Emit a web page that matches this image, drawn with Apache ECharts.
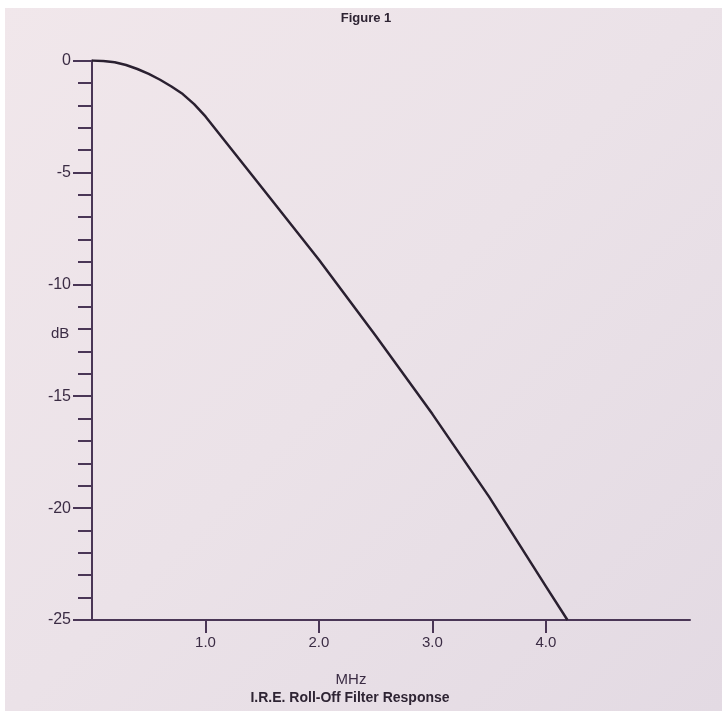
<!DOCTYPE html>
<html>
<head>
<meta charset="utf-8">
<script src="https://cdn.jsdelivr.net/npm/echarts@6/dist/echarts.min.js"></script>
<style>
  html, body { margin: 0; padding: 0; background: #ffffff; overflow: hidden; }
  #chart { width: 722px; height: 711px; }
</style>
</head>
<body>
<div id="chart"></div>
<script>
// Frequency (MHz) and response (dB)
const freqMHz = [0, 0.1, 0.2, 0.3, 0.4, 0.5, 0.6, 0.7, 0.8, 0.9, 1.0, 1.25, 1.5, 2.0, 2.5, 3.0, 3.5, 4.0, 4.19];
const responseDb = [0, -0.02, -0.08, -0.2, -0.38, -0.6, -0.86, -1.16, -1.5, -1.95, -2.5, -4.1, -5.7, -8.9, -12.3, -15.8, -19.5, -23.5, -25];
const xTickValues = [1, 2, 3, 4];
const yTickValues = [0, -5, -10, -15, -20, -25];

const chart = echarts.init(document.getElementById('chart'), null, { renderer: 'canvas' });
const ink = '#3b2c44';
const fontFam = '"Liberation Sans", Arial, Helvetica, sans-serif';

chart.setOption({
  backgroundColor: {
    type: 'linear', x: 0, y: 0, x2: 1, y2: 1,
    colorStops: [
      { offset: 0, color: '#f1e7eb' },
      { offset: 0.5, color: '#ebe2e8' },
      { offset: 1, color: '#e3dae3' }
    ]
  },
  animation: false,
  graphic: [
    { type: 'rect', shape: { x: 0, y: 0, width: 722, height: 8 }, style: { fill: '#ffffff' }, z: 100 },
    { type: 'rect', shape: { x: 0, y: 0, width: 5, height: 711 }, style: { fill: '#ffffff' }, z: 100 }
  ],
  title: [
    { text: 'Figure 1', left: 361, top: 7, textAlign: 'center',
      textStyle: { fontFamily: fontFam, fontSize: 13, fontWeight: 'bold', color: '#2e2433' } },
    { text: 'dB', left: 46, top: 321,
      textStyle: { fontFamily: fontFam, fontSize: 15, fontWeight: 'normal', color: ink } },
    { text: 'MHz', left: 346, top: 667, textAlign: 'center',
      textStyle: { fontFamily: fontFam, fontSize: 15, fontWeight: 'normal', color: ink } },
    { text: 'I.R.E. Roll-Off Filter Response', left: 345, top: 686, textAlign: 'center',
      textStyle: { fontFamily: fontFam, fontSize: 14, fontWeight: 'bold', color: '#2e2433' } }
  ],
  grid: { left: 92, top: 60.5, right: 32, bottom: 91, containLabel: false },
  xAxis: {
    type: 'value', min: 0, max: 5.27, interval: 1,
    axisLine: { show: true, onZero: false, lineStyle: { color: '#4a3656', width: 2 } },
    axisTick: { show: true, inside: false, length: 13, customValues: xTickValues,
      lineStyle: { color: '#4a3656', width: 2 } },
    axisLabel: { show: true, margin: 15, customValues: xTickValues,
      formatter: v => v.toFixed(1),
      fontFamily: fontFam, fontSize: 15, color: ink },
    splitLine: { show: false }
  },
  yAxis: {
    type: 'value', min: -25, max: 0, interval: 5,
    axisLine: { show: true, onZero: false, lineStyle: { color: '#4a3656', width: 2 } },
    axisTick: { show: true, inside: false, length: 19, customValues: yTickValues,
      lineStyle: { color: '#4a3656', width: 2 } },
    minorTick: { show: true, splitNumber: 5, length: 14, lineStyle: { color: '#4a3656', width: 2 } },
    axisLabel: { show: true, margin: 21, customValues: yTickValues,
      fontFamily: fontFam, fontSize: 16, color: ink },
    splitLine: { show: false },
    minorSplitLine: { show: false }
  },
  series: [{
    type: 'line',
    data: freqMHz.map((f, i) => [f, responseDb[i]]),
    smooth: false,
    showSymbol: false,
    lineStyle: { color: '#2a2030', width: 2.5, join: 'round' },
    z: 5
  }]
});
</script>
</body>
</html>
